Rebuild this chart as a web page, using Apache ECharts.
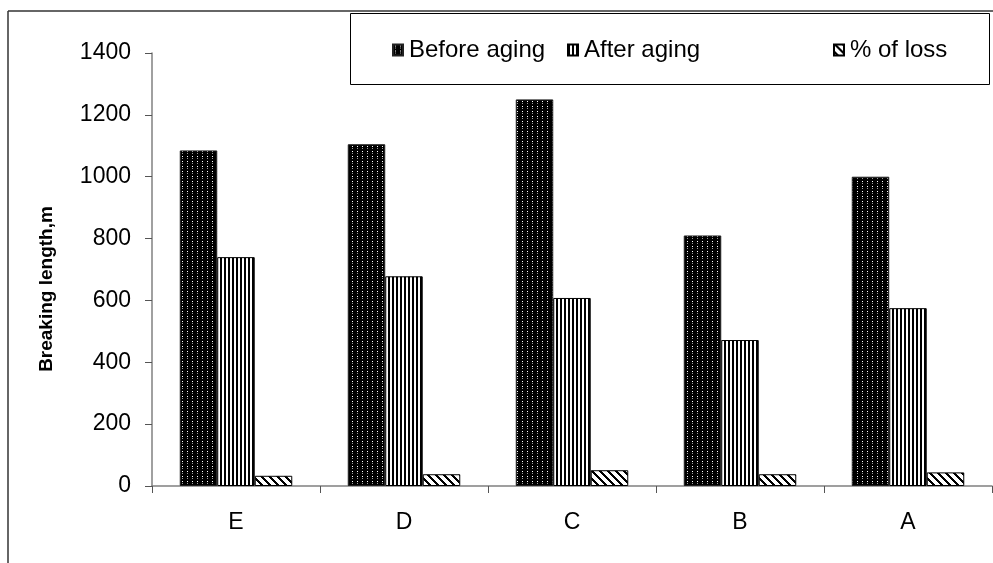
<!DOCTYPE html>
<html>
<head>
<meta charset="utf-8">
<script src="https://cdn.jsdelivr.net/npm/echarts@6/dist/echarts.min.js"></script>
<style>
  html, body { margin: 0; padding: 0; background: #fff; }
  #chart { width: 993px; height: 563px; }
</style>
</head>
<body>
<div id="chart"></div>
<script>
// Samples and measured breaking length (m)
const categories = ['E', 'D', 'C', 'B', 'A'];
const beforeAging = [1085, 1105, 1250, 810, 1000];
const afterAging = [740, 678, 608, 472, 575];
const lossPercent = [33, 38, 51, 38, 44];
const yTicks = { min: 0, max: 1400, interval: 200 };
const seriesNames = ['Before aging', 'After aging', '% of loss'];
const yTitle = 'Breaking length,m';

const FONT = '"Liberation Sans", Arial, sans-serif';

// Fill patterns drawn on small canvases
function makeTile(w, h, paint) {
  const c = document.createElement('canvas');
  c.width = w; c.height = h;
  const ctx = c.getContext('2d');
  paint(ctx, w, h);
  return c;
}
// dense black with small light dots
const dotTile = makeTile(5, 5, (ctx) => {
  ctx.fillStyle = '#000'; ctx.fillRect(0, 0, 5, 5);
  ctx.fillStyle = '#ffffff'; ctx.fillRect(2, 1, 1, 1);
  ctx.fillStyle = '#9a9a9a'; ctx.fillRect(2, 3, 1, 1);
});
// vertical black/white stripes
const vTile = makeTile(4, 4, (ctx) => {
  ctx.fillStyle = '#fff'; ctx.fillRect(0, 0, 4, 4);
  ctx.fillStyle = '#000'; ctx.fillRect(0, 0, 2, 4);
});
// backslash diagonal stripes
const dTile = makeTile(8, 8, (ctx) => {
  ctx.fillStyle = '#fff'; ctx.fillRect(0, 0, 8, 8);
  ctx.fillStyle = '#000';
  for (let y = 0; y < 8; y++) {
    for (let x = 0; x < 8; x++) {
      if (((x - y) % 8 + 8) % 8 < 3) ctx.fillRect(x, y, 1, 1);
    }
  }
});

const fills = [
  { image: dotTile, repeat: 'repeat' },
  { image: vTile, repeat: 'repeat' },
  { image: dTile, repeat: 'repeat' }
];
const seriesData = [beforeAging, afterAging, lossPercent];
const legendLeft = [387, 562, 828];

const chart = echarts.init(document.getElementById('chart'), null, { renderer: 'canvas' });

chart.setOption({
  animation: false,
  backgroundColor: '#fff',
  textStyle: { fontFamily: FONT },
  grid: { left: 152, right: 1, top: 53, bottom: 77, containLabel: false },
  legend: seriesNames.map((name, i) => ({
    data: [name],
    left: legendLeft[i],
    top: 33,
    icon: 'rect',
    itemWidth: 10,
    itemHeight: 11,
    itemGap: 0,
    textStyle: { fontSize: 24, color: '#000', fontFamily: FONT, padding: [0, 0, 0, 1] },
    selectedMode: false
  })),
  xAxis: {
    type: 'category',
    data: categories,
    axisLine: { lineStyle: { color: '#808080', width: 1.5 } },
    axisTick: { show: true, length: 7, lineStyle: { color: '#555' } },
    axisLabel: { fontSize: 23, color: '#000', margin: 25, fontFamily: FONT },
    splitLine: { show: false }
  },
  yAxis: {
    type: 'value',
    min: yTicks.min,
    max: yTicks.max,
    interval: yTicks.interval,
    axisLine: { show: true, lineStyle: { color: '#808080', width: 1.5 } },
    axisTick: { show: true, length: 7, lineStyle: { color: '#555' } },
    axisLabel: { fontSize: 23, color: '#000', margin: 21, fontFamily: FONT, formatter: (v) => String(v) },
    splitLine: { show: false }
  },
  series: seriesNames.map((name, i) => ({
    name: name,
    type: 'bar',
    data: seriesData[i],
    barWidth: 37.5,
    barGap: '0%',
    itemStyle: {
      color: fills[i],
      borderColor: i === 0 ? '#222' : '#000',
      borderWidth: 1
    }
  })),
  graphic: [
    // outer frame (top and left edges)
    { type: 'line', shape: { x1: 8, y1: 11, x2: 993, y2: 11 }, style: { stroke: '#333', lineWidth: 1.5 }, silent: true },
    { type: 'line', shape: { x1: 8, y1: 11, x2: 8, y2: 563 }, style: { stroke: '#333', lineWidth: 1.5 }, silent: true },
    // legend box
    { type: 'rect', shape: { x: 350.5, y: 13.5, width: 639, height: 71 }, style: { fill: 'none', stroke: '#000', lineWidth: 1 }, silent: true, z: -1 },
    // vertical axis title
    {
      type: 'text', x: 47, y: 289, rotation: Math.PI / 2, silent: true,
      style: { text: yTitle, fontSize: 19, fontWeight: 'bold', fontFamily: FONT, fill: '#000', align: 'center', verticalAlign: 'middle' }
    }
  ]
});
</script>
</body>
</html>
